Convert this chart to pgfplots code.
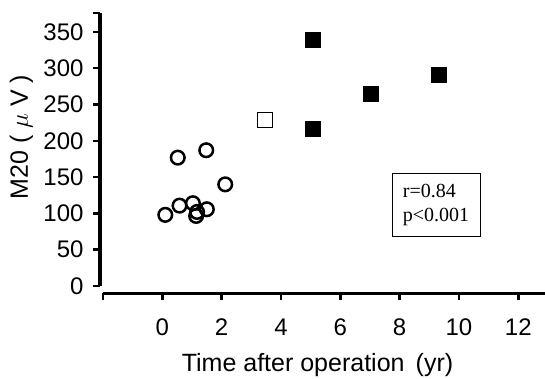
\documentclass[border=0pt]{standalone}
\usepackage{pgfplots}
\pgfplotsset{compat=1.18}
\usepackage{fontspec}
\setmainfont{Liberation Sans}
\newfontfamily\seriffont{Liberation Serif}
\begin{document}
\begin{tikzpicture}
\useasboundingbox (-103pt,-92pt) rectangle (442pt,286pt);
\begin{axis}[
  at={(0pt,0pt)}, anchor=south west,
  scale only axis, width=442pt, height=273pt,
  xmin=-2.0, xmax=12.9, ymin=0, ymax=376,
  axis x line=bottom, axis y line=left,
  axis x line shift=7pt, axis y line shift=3pt,
  axis line style={draw=none},
  clip=false,
  xtick={0,2,...,12}, ytick={0,50,...,350},
  extra x ticks={-2}, extra x tick labels={},
  extra y ticks={376}, extra y tick labels={},
  tick align=outside, major tick length=7pt,
  tick style={line width=2.5pt, black},
  /pgf/number format/assume math mode=true,
  ticklabel style={font=\fontsize{24}{28}\selectfont},
  xticklabel style={yshift=-15pt},
  yticklabel style={xshift=-6pt},
  label style={font=\fontsize{25}{30}\selectfont, inner sep=0pt},
  xlabel={Time after operation\, (yr)},
  xlabel style={at={(axis description cs:0.4853,-0.3130)}, anchor=base},
  ylabel={M20 ( $\mu$ V )},
  ylabel style={at={(axis description cs:-0.1697,0.5458)}, anchor=base},
]
% axis lines as thin filled bars
\addplot[fill=black, draw=none, forget plot] coordinates {(-2.0,-11.8) (12.9,-11.8) (12.9,-7.6) (-2.0,-7.6)} -- cycle;
\addplot[fill=black, draw=none, forget plot] coordinates {(-2.152,0) (-2.048,0) (-2.048,376) (-2.152,376)} -- cycle;
% open circles
\addplot[only marks, mark=o, mark size=6.8pt, mark options={line width=2.5pt}] coordinates {
  (0.52,176.8) (1.48,187) (2.12,140) (0.10,98) (0.58,110.7)
  (1.03,114) (1.50,105.7) (1.17,102) (1.14,96.5)
};
% open square
\addplot[only marks, mark=square, mark size=7.5pt, mark options={line width=0.8pt}] coordinates {
  (3.47,228.7)
};
% filled squares
\addplot[only marks, mark=square*, mark size=7.5pt, mark options={fill=black, draw=black}] coordinates {
  (5.07,339) (5.07,216) (7.04,265.5) (9.30,290.7)
};
\node[draw, line width=0.8pt, anchor=north west, minimum width=88pt, minimum height=63pt,
  align=left, font=\seriffont\fontsize{20}{24}\selectfont, inner sep=0pt]
  at (axis cs:7.73,155.7) {r=0.84\\p<0.001};
\end{axis}
\end{tikzpicture}
\end{document}
